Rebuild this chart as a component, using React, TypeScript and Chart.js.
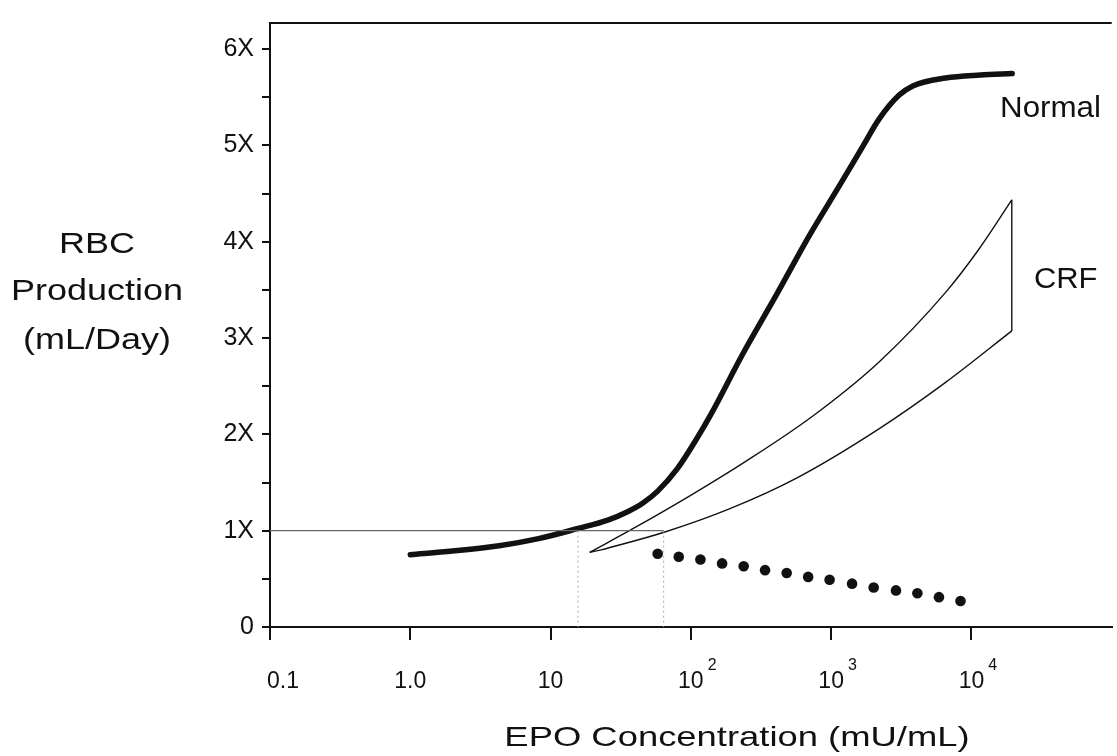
import React, { useEffect, useRef } from "react";
import { Chart, registerables } from "chart.js";

Chart.register(...registerables);

// ---- axis ticks ----
const xTickValues = [0.1, 1, 10, 100, 1000, 10000];
const xTickBase = ["0.1", "1.0", "10", "10", "10", "10"];
const xTickExp = ["", "", "", "2", "3", "4"];
const yTickValues = [0, 0.5, 1, 1.5, 2, 2.5, 3, 3.5, 4, 4.5, 5, 5.5, 6];
const yTickLabels = ["0", "", "1X", "", "2X", "", "3X", "", "4X", "", "5X", "", "6X"];

// ---- Normal response curve ----
const normalX = [1, 2, 4.3, 8.2, 15.7, 25.6, 35.4, 45.3, 57.8, 80.1, 111, 138, 237, 409, 704, 1149, 1690, 2195, 3041, 3821, 6545, 11580, 19520];
const normalY = [0.75, 0.788, 0.843, 0.917, 1.023, 1.11, 1.197, 1.285, 1.408, 1.644, 1.963, 2.199, 2.847, 3.453, 4.07, 4.584, 4.995, 5.272, 5.519, 5.617, 5.699, 5.73, 5.745];

// ---- CRF band ----
const crfUpperX = [19, 39.5, 99, 251, 745, 2206, 6546, 11270, 19400];
const crfUpperY = [0.774, 1.028, 1.364, 1.727, 2.193, 2.754, 3.474, 3.919, 4.434];
const crfLowerX = [22.9, 64.5, 190, 567, 2206, 6546, 19400];
const crfLowerY = [0.8, 0.984, 1.229, 1.546, 2.06, 2.54, 3.074];

// ---- dotted decline ----
const dotsX = [58, 82, 117, 167, 238, 338, 482, 686, 975, 1410, 2010, 2900, 4120, 5870, 8360];
const dotsY = [0.76, 0.73, 0.7, 0.66, 0.63, 0.59, 0.56, 0.52, 0.49, 0.45, 0.41, 0.38, 0.35, 0.31, 0.27];

// ---- reference lines ----
const refLevelX = [0.1, 64];
const refLevelY = [1, 1];
const refDropAX = [15.7, 15.7];
const refDropBX = [64, 64];
const refDropY = [1, 0];

const zip = (xs: number[], ys: number[]) => xs.map((x, i) => ({ x, y: ys[i] }));

const FONT = "'Liberation Sans', Arial, Helvetica, sans-serif";
const INK = "#111";

const textPlugin = {
  id: "extraTexts",
  afterDraw(chart: any) {
    const ctx = chart.ctx as CanvasRenderingContext2D;
    const { left, right, top, bottom } = chart.chartArea;
    const xs = chart.scales.x;
    const ys = chart.scales.y;
    ctx.save();
    // top frame line
    ctx.strokeStyle = INK;
    ctx.lineWidth = 2;
    ctx.beginPath();
    ctx.moveTo(left, top);
    ctx.lineTo(right, top);
    ctx.stroke();

    const draw = (t: string, x: number, y: number, size: number, sx: number, align: CanvasTextAlign) => {
      ctx.save();
      ctx.translate(x, y);
      ctx.scale(sx, 1);
      ctx.font = `${size}px ${FONT}`;
      ctx.fillStyle = INK;
      ctx.textAlign = align;
      ctx.textBaseline = "middle";
      ctx.fillText(t, 0, 0);
      ctx.restore();
    };

    // x tick labels with raised exponents
    ctx.fillStyle = INK;
    ctx.textBaseline = "alphabetic";
    const baseY = bottom + 61;
    xTickValues.forEach((v, i) => {
      const px = xs.getPixelForValue(v);
      ctx.font = `23px ${FONT}`;
      const w = ctx.measureText(xTickBase[i]).width;
      const x0 = i === 0 ? px - 3 : px - w / 2;
      ctx.textAlign = "left";
      ctx.fillText(xTickBase[i], x0, baseY);
      if (xTickExp[i]) {
        ctx.font = `16px ${FONT}`;
        ctx.fillText(xTickExp[i], x0 + w + 4, baseY - 18);
      }
    });

    // y title (horizontal, three lines)
    draw("RBC", 97, 245, 30, 1.2, "center");
    draw("Production", 97, 292, 30, 1.2, "center");
    draw("(mL/Day)", 97, 341, 30, 1.2, "center");
    // x title
    draw("EPO Concentration (mU/mL)", 737, 738, 28, 1.3, "center");
    // curve annotations
    draw("Normal", xs.getPixelForValue(16000), ys.getPixelForValue(5.38), 29, 1.08, "left");
    draw("CRF", xs.getPixelForValue(27900), ys.getPixelForValue(3.6), 30, 1.03, "left");
    ctx.restore();
  },
};

export default function App() {
  const ref = useRef<HTMLCanvasElement | null>(null);

  useEffect(() => {
    if (!ref.current) return;
    const thin = { borderColor: INK, borderWidth: 1.4, pointRadius: 0, showLine: true, fill: false };
    const chart = new Chart(ref.current, {
      type: "scatter",
      data: {
        datasets: [
          { label: "ref level", data: zip(refLevelX, refLevelY), borderColor: "#666", borderWidth: 1.3, pointRadius: 0, showLine: true },
          { label: "ref drop A", data: zip(refDropAX, refDropY), borderColor: "#aaa", borderWidth: 1, borderDash: [2, 3], pointRadius: 0, showLine: true },
          { label: "ref drop B", data: zip(refDropBX, refDropY), borderColor: "#aaa", borderWidth: 1, borderDash: [2, 3], pointRadius: 0, showLine: true },
          { label: "CRF upper", data: zip(crfUpperX, crfUpperY), ...thin, cubicInterpolationMode: "monotone" },
          { label: "CRF lower", data: zip(crfLowerX, crfLowerY), ...thin, cubicInterpolationMode: "monotone" },
          { label: "CRF right", data: [{ x: crfUpperX[crfUpperX.length - 1], y: crfUpperY[crfUpperY.length - 1] }, { x: crfLowerX[crfLowerX.length - 1], y: crfLowerY[crfLowerY.length - 1] }], ...thin },
          { label: "CRF left", data: [{ x: crfUpperX[0], y: crfUpperY[0] }, { x: crfLowerX[0], y: crfLowerY[0] }], ...thin },
          { label: "Normal", data: zip(normalX, normalY), borderColor: INK, borderWidth: 5.5, pointRadius: 0, showLine: true, cubicInterpolationMode: "monotone", borderCapStyle: "round", borderJoinStyle: "round" },
          { label: "Dots", data: zip(dotsX, dotsY), pointRadius: 5.3, pointBackgroundColor: INK, pointBorderWidth: 0, showLine: false },
        ] as any,
      },
      options: {
        animation: false,
        responsive: true,
        maintainAspectRatio: false,
        layout: { padding: { top: 17, right: 0, left: 0, bottom: 0 } },
        plugins: { legend: { display: false }, tooltip: { enabled: false } },
        scales: {
          x: {
            type: "logarithmic",
            min: 0.1,
            max: 100000,
            afterBuildTicks: (s: any) => {
              s.ticks = xTickValues.map((v) => ({ value: v }));
            },
            afterFit: (s: any) => {
              s.height = 129;
            },
            ticks: { display: false, autoSkip: false },
            grid: { drawOnChartArea: false, drawTicks: true, tickLength: 13, color: INK, lineWidth: 2 },
            border: { display: true, color: INK, width: 2 },
          },
          y: {
            type: "linear",
            min: 0,
            max: 6.27,
            afterBuildTicks: (s: any) => {
              s.ticks = yTickValues.map((v) => ({ value: v }));
            },
            afterFit: (s: any) => {
              s.width = 270;
            },
            ticks: {
              autoSkip: false,
              padding: 8,
              color: INK,
              font: { family: FONT, size: 25 },
              callback: (_v: any, i: number) => yTickLabels[i],
            },
            grid: { drawOnChartArea: false, drawTicks: true, tickLength: 8, color: INK, lineWidth: 2 },
            border: { display: true, color: INK, width: 2 },
          },
        },
      } as any,
      plugins: [textPlugin],
    });
    return () => chart.destroy();
  }, []);

  return (
    <div style={{ position: "fixed", left: 0, top: 0, width: 1117, height: 756, background: "#fff" }}>
      <canvas ref={ref} />
    </div>
  );
}
